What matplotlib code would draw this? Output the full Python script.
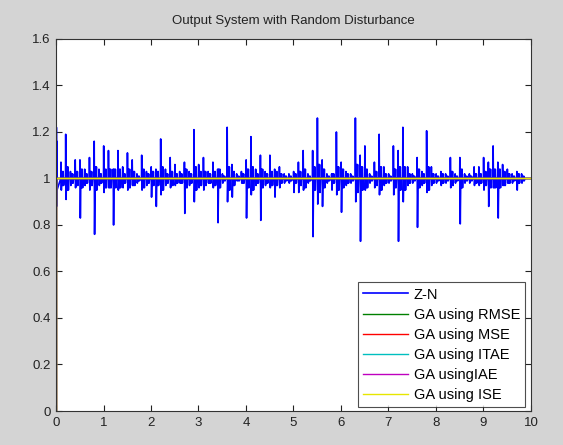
import matplotlib
matplotlib.use("Agg")
import matplotlib.pyplot as plt
from matplotlib.ticker import FuncFormatter

plt.rcParams['font.family'] = ['Liberation Sans', 'DejaVu Sans']

# ---- data ----
# initial transient of Z-N response
zn_start_t = [0.0, 0.0, 0.004, 0.008, 0.012, 0.016, 0.02]
zn_start_y = [0.0, 1.6, 0.66, 1.22, 0.88, 1.16, 0.95]

# disturbance events: time, peak, trough, ringing amplitude
event_t = [0.1, 0.2, 0.3, 0.4, 0.5, 0.6, 0.7, 0.8, 0.9, 1.0,
           1.1, 1.2, 1.3, 1.4, 1.5, 1.6, 1.7, 1.8, 1.9, 2.0,
           2.1, 2.2, 2.3, 2.4, 2.5, 2.6, 2.7, 2.8, 2.9, 3.0,
           3.1, 3.2, 3.3, 3.4, 3.5, 3.6, 3.7, 3.8, 3.9, 4.0,
           4.1, 4.2, 4.3, 4.4, 4.5, 4.6, 4.7, 4.8, 4.9, 5.0,
           5.1, 5.2, 5.3, 5.4, 5.5, 5.6, 5.7, 5.8, 5.9, 6.0,
           6.1, 6.2, 6.3, 6.4, 6.5, 6.6, 6.7, 6.8, 6.9, 7.0,
           7.1, 7.2, 7.3, 7.4, 7.5, 7.6, 7.7, 7.8, 7.9, 8.0,
           8.1, 8.2, 8.3, 8.4, 8.5, 8.6, 8.7, 8.8, 8.9, 9.0,
           9.1, 9.2, 9.3, 9.4, 9.5, 9.6, 9.7, 9.8]
event_hi = [1.07, 1.19, 1.03, 1.08, 1.08, 1.04, 1.09, 1.16, 1.04, 1.14,
            1.12, 1.04, 1.12, 1.05, 1.11, 1.08, 1.02, 1.10, 1.03, 1.05,
            1.04, 1.17, 1.04, 1.09, 1.06, 1.03, 1.07, 1.03, 1.21, 1.06,
            1.09, 1.03, 1.07, 1.04, 1.02, 1.22, 1.06, 1.02, 1.03, 1.08,
            1.18, 1.04, 1.10, 1.03, 1.10, 1.04, 1.05, 1.02, 1.02, 1.03,
            1.07, 1.12, 1.02, 1.12, 1.26, 1.08, 1.02, 1.02, 1.20, 1.07,
            1.03, 1.02, 1.26, 1.10, 1.14, 1.02, 1.07, 1.19, 1.05, 1.02,
            1.14, 1.12, 1.22, 1.05, 1.02, 1.09, 1.03, 1.205, 1.05, 1.02,
            1.03, 1.02, 1.09, 1.02, 1.09, 1.02, 1.02, 1.05, 1.05, 1.09,
            1.07, 1.14, 1.07, 1.06, 1.04, 1.02, 1.03, 1.02]
event_lo = [0.95, 0.91, 0.97, 0.96, 0.83, 0.97, 0.95, 0.76, 0.97, 0.94,
            0.96, 0.80, 0.95, 0.96, 0.95, 0.97, 0.98, 0.95, 0.97, 0.92,
            0.88, 0.93, 0.97, 0.96, 0.97, 0.98, 0.85, 0.97, 0.90, 0.96,
            0.95, 0.98, 0.96, 0.81, 0.98, 0.90, 0.92, 0.99, 0.98, 0.83,
            0.93, 0.97, 0.82, 0.97, 0.96, 0.92, 0.96, 0.98, 0.98, 0.94,
            0.94, 0.95, 0.98, 0.75, 0.89, 0.88, 0.98, 0.95, 0.93, 0.855,
            0.97, 0.98, 0.90, 0.73, 0.95, 0.98, 0.96, 0.93, 0.97, 0.98,
            0.93, 0.73, 0.90, 0.97, 0.98, 0.79, 0.97, 0.94, 0.97, 0.98,
            0.97, 0.98, 0.96, 0.98, 0.805, 0.98, 0.98, 0.97, 0.97, 0.95,
            0.88, 0.96, 0.83, 0.97, 0.98, 0.98, 0.95, 0.98]
event_ring = [0.03, 0.05, 0.02, 0.03, 0.04, 0.02, 0.03, 0.05, 0.02, 0.04,
              0.04, 0.04, 0.04, 0.02, 0.04, 0.03, 0.01, 0.04, 0.02, 0.03,
              0.03, 0.05, 0.02, 0.03, 0.02, 0.02, 0.04, 0.02, 0.05, 0.03,
              0.03, 0.02, 0.03, 0.04, 0.01, 0.05, 0.03, 0.01, 0.02, 0.04,
              0.05, 0.02, 0.04, 0.02, 0.03, 0.03, 0.02, 0.01, 0.01, 0.02,
              0.03, 0.04, 0.01, 0.05, 0.06, 0.04, 0.01, 0.02, 0.05, 0.04,
              0.02, 0.01, 0.06, 0.05, 0.04, 0.01, 0.03, 0.05, 0.02, 0.01,
              0.04, 0.05, 0.05, 0.02, 0.01, 0.04, 0.02, 0.05, 0.02, 0.01,
              0.02, 0.01, 0.03, 0.01, 0.04, 0.01, 0.01, 0.02, 0.02, 0.03,
              0.04, 0.04, 0.04, 0.03, 0.02, 0.01, 0.02, 0.01]
zn_end_t = [9.85, 10.0]
zn_end_y = [1.0, 1.0]

# GA-tuned responses: step to the set-point and flat
ga_t = [0.0, 0.0, 10.0]
ga_y = [0.0, 1.0, 1.0]

labels = ['Z-N', 'GA using RMSE', 'GA using MSE', 'GA using ITAE',
          'GA usingIAE', 'GA using ISE']
colors = ['#0000ff', '#008000', '#ff0000', '#00bfbf', '#bf00bf', '#e6e600']

# build Z-N polyline from the events
zn_t = list(zn_start_t)
zn_y = list(zn_start_y)
for t, hi, lo, r in zip(event_t, event_hi, event_lo, event_ring):
    zn_t += [t, t + 0.004, t + 0.012, t + 0.025, t + 0.035, t + 0.05,
             t + 0.06, t + 0.07]
    zn_y += [1.0, hi, lo, 1.0 + r, 1.0 - r, 1.0 + r, 1.0 - r, 1.0]
zn_t += zn_end_t
zn_y += zn_end_y

fig = plt.figure(figsize=(5.63, 4.45), dpi=100, facecolor='#d4d4d4')
ax = fig.add_axes([0.0995, 0.0764, 0.8435, 0.836])
ax.set_facecolor('white')

ax.plot(zn_t, zn_y, color=colors[0], lw=1.2, label=labels[0])
for c, lab in zip(colors[1:], labels[1:]):
    ax.plot(ga_t, ga_y, color=c, lw=1.0, label=lab)

ax.set_xlim(0, 10)
ax.set_ylim(0, 1.6)
ax.set_xticks(range(0, 11))
ax.set_yticks([0, 0.2, 0.4, 0.6, 0.8, 1.0, 1.2, 1.4, 1.6])
ax.yaxis.set_major_formatter(FuncFormatter(lambda v, p: ('%g' % round(v, 2))))
ax.tick_params(direction='in', top=True, right=True, length=4, width=0.8,
               labelsize=9.5, colors='#222222', pad=4)
for s in ax.spines.values():
    s.set_color('#333333')
    s.set_linewidth(0.8)

ax.set_title('Output System with Random Disturbance', fontsize=9.5,
             color='#222222', pad=11)

leg = ax.legend(loc='lower right', bbox_to_anchor=(0.988, 0.01),
                borderaxespad=0, fontsize=10.5, frameon=True, fancybox=False,
                handlelength=3.1, labelspacing=0.42, handletextpad=0.4,
                borderpad=0.35)
leg.get_frame().set_edgecolor('#222222')
leg.get_frame().set_linewidth(0.8)

fig.savefig('out.png', dpi=100, facecolor=fig.get_facecolor())
